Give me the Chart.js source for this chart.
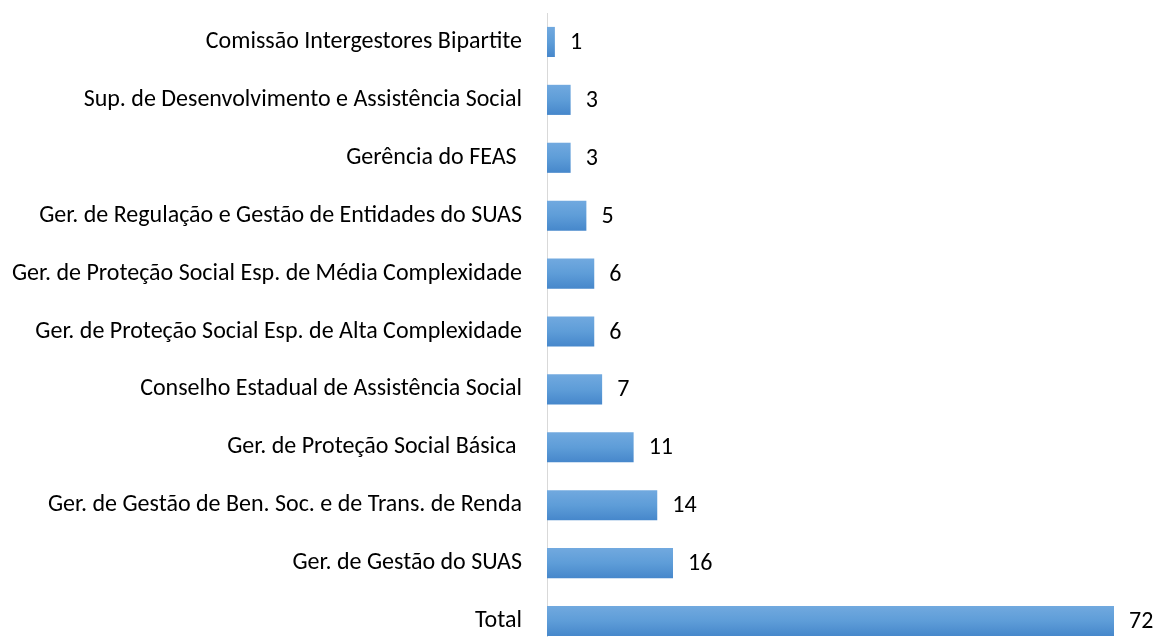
<!DOCTYPE html>
<html><head><meta charset="utf-8">
<script src="https://cdn.jsdelivr.net/npm/chart.js@4"></script>
<style>html,body{margin:0;padding:0;background:#fff;overflow:hidden}canvas{display:block}</style>
</head><body><canvas id="c" width="1154" height="660"></canvas>
<script>
const categories = [
  "Comissão Intergestores Bipartite",
  "Sup. de Desenvolvimento e Assistência Social",
  "Gerência do FEAS ",
  "Ger. de Regulação e Gestão de Entidades do SUAS",
  "Ger. de Proteção Social Esp. de Média Complexidade",
  "Ger. de Proteção Social Esp. de Alta Complexidade",
  "Conselho Estadual de Assistência Social",
  "Ger. de Proteção Social Básica ",
  "Ger. de Gestão de Ben. Soc. e de Trans. de Renda",
  "Ger. de Gestão do SUAS",
  "Total"
];
const values = [1, 3, 3, 5, 6, 6, 7, 11, 14, 16, 72];

// pick a font size so the label width matches the Calibri-style reference
const FONT = "Carlito, Lato";
const mctx = document.createElement('canvas').getContext('2d');
mctx.font = "20px " + FONT;
const w20 = mctx.measureText(categories[0]).width;
const FS = Math.round(20 * 317 / w20 * 2) / 2;

const gradPlugin = {
  id: 'grad',
  beforeDatasetsDraw(chart) {
    const ctx = chart.ctx;
    chart.getDatasetMeta(0).data.forEach(bar => {
      const h = bar.height;
      const g = ctx.createLinearGradient(0, bar.y - h / 2, 0, bar.y + h / 2);
      g.addColorStop(0, '#71a9df');
      g.addColorStop(0.5, '#5e9dd8');
      g.addColorStop(1, '#4687cb');
      bar.options.backgroundColor = g;
    });
  }
};
const labelPlugin = {
  id: 'vals',
  afterDatasetsDraw(chart) {
    const ctx = chart.ctx;
    const meta = chart.getDatasetMeta(0);
    ctx.save();
    ctx.font = FS + "px " + FONT;
    ctx.fillStyle = "#000";
    ctx.textBaseline = "middle";
    ctx.textAlign = "left";
    meta.data.forEach((bar, i) => {
      ctx.fillText(String(values[i]), bar.x + 15, bar.y + 1);
    });
    ctx.restore();
  }
};

new Chart(document.getElementById('c'), {
  type: 'bar',
  data: {
    labels: categories,
    datasets: [{
      data: values,
      categoryPercentage: 1,
      barPercentage: 0.52,
      backgroundColor: () => '#5b9bd5'
    }]
  },
  options: {
    indexAxis: 'y',
    responsive: false,
    animation: false,
    layout: { padding: { top: 13, bottom: 10, right: 40, left: 0 } },
    plugins: { legend: { display: false }, tooltip: { enabled: false } },
    scales: {
      x: { display: false, min: 0, max: 72 },
      y: {
        afterFit(scale) { scale.width = 547; scale.paddingTop = 0; scale.paddingBottom = 0; },
        grid: { display: false, drawTicks: false },
        border: { display: true, color: '#d9d9d9', width: 1 },
        ticks: { color: '#000', padding: 25, font: { family: FONT, size: FS } }
      }
    }
  },
  plugins: [gradPlugin, labelPlugin]
});
</script>
</body></html>
